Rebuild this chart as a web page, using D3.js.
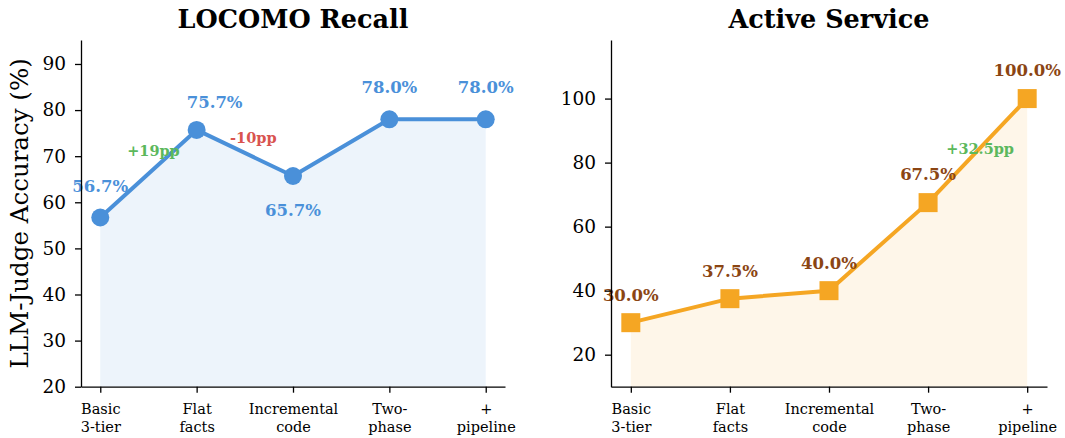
<!DOCTYPE html>
<html>
<head>
<meta charset="utf-8">
<script src="https://cdn.jsdelivr.net/npm/d3@7"></script>
<style>
  body { margin: 0; background: #fff; }
  svg { display: block; font-family: "DejaVu Serif", serif; }
  svg text { font-family: "DejaVu Serif", serif; }
</style>
</head>
<body>
<svg id="chart"></svg>
<script>
// data
const categories = ["Basic\n3-tier", "Flat\nfacts", "Incremental\ncode", "Two-\nphase", "+\npipeline"]
const locomoValues = [56.7, 75.7, 65.7, 78.0, 78.0]
const activeValues = [30.0, 37.5, 40.0, 67.5, 100.0]
const locomoTicks = [20, 30, 40, 50, 60, 70, 80, 90]
const activeTicks = [20, 40, 60, 80, 100]
const locomoDeltas = [
  { from: 0, to: 1, text: "+19pp", kind: "up" },
  { from: 1, to: 2, text: "-10pp", kind: "down" }
]
const activeDeltas = [
  { from: 3, to: 4, text: "+32.5pp", kind: "up" }
]

var dimensions = { width: 1065, height: 438, top: 40, bottom: 386.7 }

var svg = d3.select("#chart")
  .attr("width", dimensions.width)
  .attr("height", dimensions.height)

var deltaColor = { up: "#5cb85c", down: "#d9534f" }

function drawPanel(p) {
  var xScale = d3.scaleLinear().domain([-0.2, 4.2]).range([p.left, p.right])
  var yScale = d3.scaleLinear().domain(p.yDomain).range([dimensions.bottom, dimensions.top])
  var g = svg.append("g")

  var area = d3.area()
    .x((d, i) => xScale(i))
    .y0(yScale(p.yDomain[0]))
    .y1(d => yScale(d))
  g.append("path").datum(p.values)
    .attr("d", area)
    .attr("fill", p.color)
    .attr("fill-opacity", 0.1)

  var line = d3.line().x((d, i) => xScale(i)).y(d => yScale(d))
  g.append("path").datum(p.values)
    .attr("d", line)
    .attr("fill", "none")
    .attr("stroke", p.color)
    .attr("stroke-width", 4)
    .attr("stroke-linejoin", "round")

  if (p.marker == "circle") {
    g.selectAll(".pt").data(p.values).enter().append("circle")
      .attr("cx", (d, i) => xScale(i))
      .attr("cy", d => yScale(d))
      .attr("r", 9)
      .attr("fill", p.color)
  } else {
    g.selectAll(".pt").data(p.values).enter().append("rect")
      .attr("x", (d, i) => xScale(i) - 9.5)
      .attr("y", d => yScale(d) - 9.5)
      .attr("width", 19)
      .attr("height", 19)
      .attr("fill", p.color)
  }

  // value labels
  g.selectAll(".lbl").data(p.values).enter().append("text")
    .attr("x", (d, i) => xScale(i) + p.labelOffset[i][0])
    .attr("y", (d, i) => yScale(d) + p.labelOffset[i][1])
    .attr("text-anchor", "middle")
    .attr("font-size", 16.5)
    .attr("font-weight", "bold")
    .attr("fill", p.labelColor)
    .text(d => d.toFixed(1) + "%")

  // delta annotations at segment midpoints
  g.selectAll(".delta").data(p.deltas).enter().append("text")
    .attr("x", (d, i) => xScale((d.from + d.to) / 2) + p.deltaOffset[i][0])
    .attr("y", (d, i) => yScale((p.values[d.from] + p.values[d.to]) / 2) + p.deltaOffset[i][1])
    .attr("text-anchor", "middle")
    .attr("font-size", 14.5)
    .attr("font-weight", "bold")
    .attr("fill", d => deltaColor[d.kind])
    .text(d => d.text)

  var xAxisgen = d3.axisBottom(xScale)
    .tickValues(d3.range(categories.length))
    .tickSize(6).tickSizeOuter(0).tickFormat("")
  var xAxis = g.append("g")
    .attr("transform", `translate(0,${dimensions.bottom})`)
    .call(xAxisgen)
    .attr("font-family", null)
  xAxis.selectAll(".tick").append("text")
    .attr("fill", "#000")
    .attr("text-anchor", "middle")
    .attr("font-size", 14.5)
    .selectAll("tspan")
    .data((d) => categories[d].split("\n"))
    .enter().append("tspan")
    .attr("x", 0)
    .attr("y", (d, i) => 27.6 + i * 17.3)
    .text(d => d)

  var yAxisgen = d3.axisLeft(yScale)
    .tickValues(p.ticks).tickSize(6).tickSizeOuter(0).tickPadding(9)
  var yAxis = g.append("g")
    .attr("transform", `translate(${p.left},0)`)
    .call(yAxisgen)
    .attr("font-family", null)
    .attr("font-size", 18.5)
  yAxis.selectAll("text").attr("fill", "#000")

  ;[xAxis, yAxis].forEach(a => {
    a.select(".domain").attr("stroke", "#000").attr("stroke-width", 1.3)
    a.selectAll(".tick line").attr("stroke", "#000").attr("stroke-width", 1.3)
  })

  g.append("text")
    .attr("x", (p.left + p.right) / 2)
    .attr("y", 28)
    .attr("text-anchor", "middle")
    .attr("font-size", 25.5)
    .attr("font-weight", "bold")
    .text(p.title)
}

drawPanel({
  title: "LOCOMO Recall",
  left: 81, right: 505,
  yDomain: [20, 95.2],
  ticks: locomoTicks,
  values: locomoValues,
  color: "#4a90d9",
  labelColor: "#4a90d9",
  marker: "circle",
  labelOffset: [[0, -25.6], [18, -22.3], [0, 40], [0, -26], [0, -26]],
  deltas: locomoDeltas,
  deltaOffset: [[5, -17.6], [8.5, -10.3]]
})

drawPanel({
  title: "Active Service",
  left: 611, right: 1047,
  yDomain: [10, 118.3],
  ticks: activeTicks,
  values: activeValues,
  color: "#f5a623",
  labelColor: "#8b4513",
  marker: "square",
  labelOffset: [[0, -21.7], [0, -21.4], [0, -21.4], [0, -22.7], [0, -22.7]],
  deltas: activeDeltas,
  deltaOffset: [[2.5, 3.3]]
})

svg.append("text")
  .attr("transform", `translate(28,${(dimensions.top + dimensions.bottom) / 2}) rotate(-90)`)
  .attr("text-anchor", "middle")
  .attr("font-size", 24.5)
  .text("LLM-Judge Accuracy (%)")
</script>
</body>
</html>
